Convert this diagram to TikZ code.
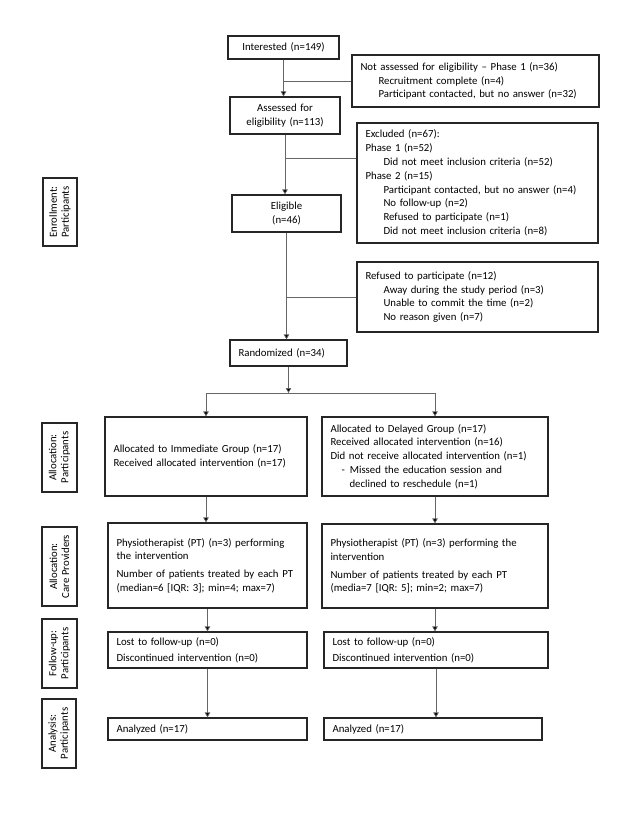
\documentclass[tikz,border=0pt]{standalone}
\usepackage{fontspec}
\setmainfont{Carlito}
\usetikzlibrary{arrows,arrows.meta,positioning,calc}
\newcommand{\sublvl}{\hspace*{18pt}}

\begin{document}
\begin{tikzpicture}[x=1pt,y=-1pt]
\tikzstyle{box}=[rectangle,draw=black!85,line width=1.2pt,inner xsep=8.5pt,inner ysep=0pt,align=left,font=\fontsize{10.8}{13.8}\selectfont]
\tikzstyle{stage}=[rectangle,draw=black!85,line width=1.1pt,rotate=90,align=center,inner sep=0pt,font=\fontsize{10.8}{12}\selectfont]
\tikzstyle{line}=[draw=black!60,line width=0.7pt]
\tikzstyle{arr}=[line,-{Triangle[width=5.5pt,length=5pt,fill=black]}]

\useasboundingbox (0,0) rectangle (637,824);

% enrollment
\node[box,align=center,text width=94pt,minimum height=23pt] (interested) at (283.5,47.5) {Interested (n=149)};
\node[box,text width=230pt,minimum height=52pt] (notassessed) at (475.5,81) {Not assessed for eligibility -- Phase 1 (n=36)\\
\sublvl Recruitment complete (n=4)\\
\sublvl Participant contacted, but no answer (n=32)};
\node[box,align=center,text width=93pt,minimum height=37pt] (assessed) at (285,115.5) {Assessed for\\eligibility (n=113)};
\node[box,text width=224pt,minimum height=120pt] (excluded) at (477.5,183) {Excluded (n=67):\\
Phase 1 (n=52)\\
\sublvl Did not meet inclusion criteria (n=52)\\
Phase 2 (n=15)\\
\sublvl Participant contacted, but no answer (n=4)\\
\sublvl No follow-up (n=2)\\
\sublvl Refused to participate (n=1)\\
\sublvl Did not meet inclusion criteria (n=8)};
\node[box,align=center,text width=92pt,minimum height=37pt] (eligible) at (286.5,213.5) {Eligible\\(n=46)};
\node[box,text width=224pt,minimum height=70pt] (refused) at (477.5,297) {Refused to participate (n=12)\\
\sublvl Away during the study period (n=3)\\
\sublvl Unable to commit the time (n=2)\\
\sublvl No reason given (n=7)};
\node[box,text width=100pt,minimum height=26pt] (randomized) at (288.5,353) {Randomized (n=34)};

% allocation
\node[box,text width=185pt,minimum height=79pt] (immediate) at (206,456.5) {Allocated to Immediate Group (n=17)\\
Received allocated intervention (n=17)};
\node[box,text width=209pt,minimum height=79pt] (delayed) at (435,456.5) {Allocated to Delayed Group (n=17)\\
Received allocated intervention (n=16)\\
Did not receive allocated intervention (n=1)\\
\hspace*{11pt}-\hspace*{5pt}Missed the education session and\\
\hspace*{19pt}declined to reschedule (n=1)};
\node[box,text width=182pt,minimum height=85pt] (ptimm) at (207.5,565.5) {Physiotherapist (PT) (n=3) performing\\
the intervention\\[4pt]
Number of patients treated by each PT\\
(median=6 [IQR: 3]; min=4; max=7)};
\node[box,text width=209pt,minimum height=84pt] (ptdel) at (435,566) {Physiotherapist (PT) (n=3) performing the\\
intervention\\[4pt]
Number of patients treated by each PT\\
(media=7 [IQR: 5]; min=2; max=7)};

% follow-up and analysis
\node[box,text width=182pt,minimum height=36pt] (fuimm) at (207.5,650) {Lost to follow-up (n=0)\\[2pt]
Discontinued intervention (n=0)};
\node[box,text width=207pt,minimum height=36pt] (fudel) at (436,650) {Lost to follow-up (n=0)\\[2pt]
Discontinued intervention (n=0)};
\node[box,text width=182pt,minimum height=22pt] (animm) at (207.5,729) {Analyzed (n=17)};
\node[box,text width=201pt,minimum height=22pt] (andel) at (433,729) {Analyzed (n=17)};

% stage labels
\node[stage,minimum width=68pt,minimum height=34pt] (lenroll) at (60,212) {Enrollment:\\Participants};
\node[stage,minimum width=69pt,minimum height=35pt] (lallocp) at (59.5,457.5) {Allocation:\\Participants};
\node[stage,minimum width=79pt,minimum height=35pt] (lallocc) at (59.5,566.5) {Allocation:\\Care Providers};
\node[stage,minimum width=69pt,minimum height=35pt] (lfollow) at (59.5,653.5) {Follow-up:\\Participants};
\node[stage,minimum width=69pt,minimum height=34pt] (lanalysis) at (59,733.5) {Analysis:\\Participants};

% connectors
\coordinate (exin) at ($(excluded.north west)!0.3!(excluded.south west)$);
\coordinate (split) at (randomized.south |- 0,393);
\draw[arr] (interested.south) -- (interested.south |- assessed.north);
\draw[line] (notassessed.west) -- (notassessed.west -| interested.south);
\draw[arr] (assessed.south) -- (assessed.south |- eligible.north);
\draw[line] (exin) -- (exin -| assessed.south);
\draw[arr] (eligible.south) -- (eligible.south |- randomized.north);
\draw[line] (refused.west) -- (refused.west -| eligible.south);
\draw[arr] (randomized.south) -- (split);
\draw[arr] (split) -| (immediate.north);
\draw[arr] (split) -| (delayed.north);
\draw[arr] (immediate.south) -- (immediate.south |- ptimm.north);
\draw[arr] (delayed.south) -- (delayed.south |- ptdel.north);
\draw[arr] (ptimm.south) -- (ptimm.south |- fuimm.north);
\draw[arr] (ptdel.south) -- (ptdel.south |- fudel.north);
\draw[arr] (fuimm.south) -- (fuimm.south |- animm.north);
\draw[arr] (fudel.south) -- (fudel.south |- andel.north);
\end{tikzpicture}
\end{document}
